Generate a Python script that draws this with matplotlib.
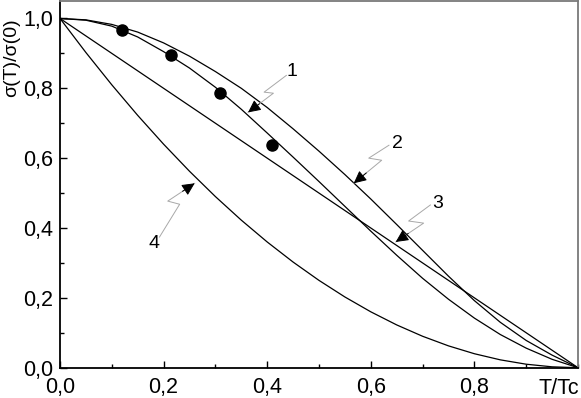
import matplotlib
matplotlib.use("Agg")
import matplotlib.pyplot as plt
from matplotlib.ticker import FuncFormatter, MultipleLocator

plt.rcParams["font.family"] = ["Liberation Sans", "DejaVu Sans"]

# curve 1 (theory through the experimental points)
t1 = [0.0, 0.05, 0.1, 0.15, 0.2, 0.25, 0.3, 0.35, 0.4, 0.45, 0.5, 0.55,
      0.6, 0.65, 0.7, 0.75, 0.8, 0.85, 0.9, 0.95, 1.0]
s1 = [1.0, 0.995, 0.978, 0.947, 0.905, 0.858, 0.803, 0.74, 0.672, 0.603, 0.533, 0.462,
      0.391, 0.322, 0.256, 0.196, 0.142, 0.095, 0.056, 0.024, 0.0]

# curve 2 (upper)
t2 = [0.0, 0.05, 0.1, 0.15, 0.2, 0.25, 0.3, 0.35, 0.4, 0.45, 0.5, 0.55,
      0.6, 0.65, 0.7, 0.75, 0.8, 0.85, 0.9, 0.95, 1.0]
s2 = [1.0, 0.996, 0.983, 0.961, 0.93, 0.892, 0.848, 0.80, 0.745, 0.684, 0.62, 0.553,
      0.483, 0.41, 0.336, 0.262, 0.192, 0.13, 0.078, 0.036, 0.0]

# curve 3 (straight line)
t3 = [0.0, 1.0]
s3 = [1.0, 0.0]

# curve 4 (lower)
t4 = [0.0, 0.05, 0.1, 0.15, 0.2, 0.25, 0.3, 0.35, 0.4, 0.45, 0.5, 0.55,
      0.6, 0.65, 0.7, 0.75, 0.8, 0.85, 0.9, 0.95, 1.0]
s4 = [1.0, 0.9025, 0.81, 0.7225, 0.64, 0.5625, 0.49, 0.4225, 0.36, 0.3025, 0.25, 0.2025,
      0.16, 0.1225, 0.09, 0.0625, 0.04, 0.0225, 0.01, 0.0025, 0.0]

# experimental points
t_exp = [0.12, 0.215, 0.309, 0.41]
s_exp = [0.966, 0.895, 0.788, 0.638]

# curve labels: label text, label position, leader polyline (last point = arrow tip)
labels = ["1", "2", "3", "4"]
label_pos = [(0.448, 0.847), (0.652, 0.643), (0.729, 0.471), (0.181, 0.355)]
leaders = [
    [(0.437, 0.837), (0.394, 0.789), (0.412, 0.786), (0.363, 0.731)],
    [(0.635, 0.637), (0.596, 0.600), (0.621, 0.594), (0.567, 0.528)],
    [(0.715, 0.466), (0.673, 0.420), (0.702, 0.414), (0.648, 0.360)],
    [(0.192, 0.374), (0.231, 0.468), (0.208, 0.477), (0.260, 0.528)],
]

fig = plt.figure(figsize=(5.81, 3.98), dpi=100)
ax = fig.add_axes([60 / 581, 30.3 / 398, 518 / 581, 366.7 / 398])

for t, s in [(t1, s1), (t2, s2), (t3, s3), (t4, s4)]:
    ax.plot(t, s, color="black", lw=0.9)
ax.plot(t_exp, s_exp, "o", color="black", ms=8)

for lab, pos, pts in zip(labels, label_pos, leaders):
    xs = [p[0] for p in pts]
    ys = [p[1] for p in pts]
    ax.plot(xs, ys, color="#a8a8a8", lw=0.7)
    tip = pts[-1]
    prev = pts[-2]
    back = (tip[0] + 0.45 * (prev[0] - tip[0]), tip[1] + 0.45 * (prev[1] - tip[1]))
    ax.annotate("", xy=tip, xytext=back,
                arrowprops=dict(arrowstyle="-|>,head_length=0.45,head_width=0.22",
                                color="black", lw=0.7,
                                mutation_scale=17, shrinkA=0, shrinkB=0))
    ax.text(pos[0], pos[1], lab, fontsize=14, ha="center", va="center")

ax.set_xlim(0, 1.0)
ax.set_ylim(0, 1.05)
ax.set_xticks([0.0, 0.2, 0.4, 0.6, 0.8])
ax.set_yticks([0.0, 0.2, 0.4, 0.6, 0.8, 1.0])
ax.xaxis.set_minor_locator(MultipleLocator(0.1))
ax.yaxis.set_minor_locator(MultipleLocator(0.1))
fmt = FuncFormatter(lambda v, p: f"{v:.1f}".replace(".", ","))
ax.xaxis.set_major_formatter(fmt)
ax.yaxis.set_major_formatter(fmt)
ax.tick_params(which="both", direction="in", top=False, right=False,
               labelsize=15.5, width=1.0)
ax.tick_params(which="major", length=5)
ax.tick_params(which="minor", length=3)
ax.tick_params(axis="x", which="major", pad=7)
ax.tick_params(axis="y", which="major", pad=5)

for side in ["left", "bottom"]:
    ax.spines[side].set_linewidth(1.3)
    ax.spines[side].set_color("black")
for side in ["top", "right"]:
    ax.spines[side].set_linewidth(1.3)
    ax.spines[side].set_color("#7a7a7a")

fig.text(559 / 581, 1 - 388 / 398, "T/Tc", fontsize=15.5, ha="center", va="center")
fig.text(12 / 581, 1 - 58 / 398, "σ(T)/σ(0)", fontsize=14, ha="center",
         va="center", rotation=90)

fig.savefig("out.png", dpi=100)
